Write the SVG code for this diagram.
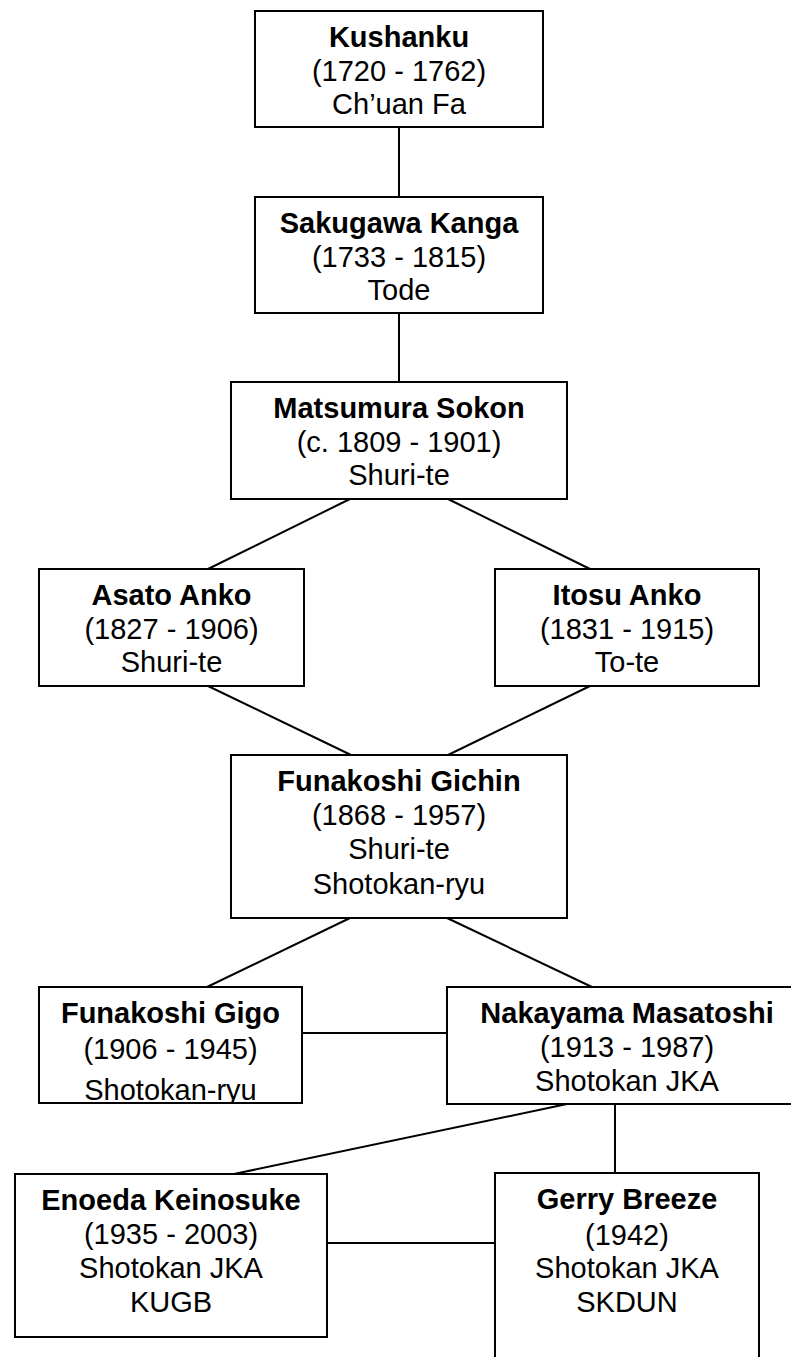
<svg xmlns="http://www.w3.org/2000/svg" width="791" height="1357" viewBox="0 0 791 1357">
<style>
.box{fill:#fff;stroke:#000;stroke-width:2}
.ln{stroke:#000;stroke-width:2;fill:none}
text{font-family:"Liberation Sans",Arial,sans-serif;font-size:29px;text-anchor:middle;fill:#000}
.b{font-weight:bold}
</style>
<defs>
<clipPath id="gigoClip"><rect x="40" y="988" width="261" height="114"/></clipPath>
</defs>
<rect width="791" height="1357" fill="#fff"/>
<g id="connectors">
<line class="ln" x1="399" y1="127" x2="399" y2="197"/>
<line class="ln" x1="399" y1="313" x2="399" y2="382"/>
<line class="ln" x1="350" y1="499" x2="208" y2="569"/>
<line class="ln" x1="448" y1="499" x2="590" y2="569"/>
<line class="ln" x1="208" y1="686" x2="351" y2="755"/>
<line class="ln" x1="590" y1="686" x2="448" y2="755"/>
<line class="ln" x1="350" y1="918" x2="207" y2="987"/>
<line class="ln" x1="447" y1="918" x2="592" y2="987"/>
<line class="ln" x1="302" y1="1033" x2="447" y2="1033"/>
<line class="ln" x1="567" y1="1104" x2="234" y2="1174"/>
<line class="ln" x1="615" y1="1104" x2="615" y2="1173"/>
<line class="ln" x1="327" y1="1243" x2="495" y2="1243"/>
</g>
<g id="kushanku">
<rect class="box" x="255" y="11" width="288" height="116"/>
<text class="b" x="399" y="47">Kushanku</text>
<text x="399" y="81">(1720 - 1762)</text>
<text x="399" y="114">Ch’uan Fa</text>
</g>
<g id="sakugawa">
<rect class="box" x="255" y="197" width="288" height="116"/>
<text class="b" x="399" y="233">Sakugawa Kanga</text>
<text x="399" y="267">(1733 - 1815)</text>
<text x="399" y="300">Tode</text>
</g>
<g id="matsumura">
<rect class="box" x="231" y="382" width="336" height="117"/>
<text class="b" x="399" y="418">Matsumura Sokon</text>
<text x="399" y="452">(c. 1809 - 1901)</text>
<text x="399" y="485">Shuri-te</text>
</g>
<g id="asato">
<rect class="box" x="39" y="569" width="265" height="117"/>
<text class="b" x="171.5" y="605">Asato Anko</text>
<text x="171.5" y="639">(1827 - 1906)</text>
<text x="171.5" y="672">Shuri-te</text>
</g>
<g id="itosu">
<rect class="box" x="495" y="569" width="264" height="117"/>
<text class="b" x="627" y="605">Itosu Anko</text>
<text x="627" y="639">(1831 - 1915)</text>
<text x="627" y="672">To-te</text>
</g>
<g id="gichin">
<rect class="box" x="231" y="755" width="336" height="163"/>
<text class="b" x="399" y="791">Funakoshi Gichin</text>
<text x="399" y="825">(1868 - 1957)</text>
<text x="399" y="859">Shuri-te</text>
<text x="399" y="894">Shotokan-ryu</text>
</g>
<g id="gigo">
<rect class="box" x="39" y="987" width="263" height="116"/>
<g clip-path="url(#gigoClip)">
<text class="b" x="170.5" y="1023">Funakoshi Gigo</text>
<text x="170.5" y="1059">(1906 - 1945)</text>
<text x="170.5" y="1100">Shotokan-ryu</text>
</g>
</g>
<g id="nakayama">
<rect class="box" x="447" y="987" width="360" height="117"/>
<text class="b" x="627" y="1023">Nakayama Masatoshi</text>
<text x="627" y="1057">(1913 - 1987)</text>
<text x="627" y="1091">Shotokan JKA</text>
</g>
<g id="enoeda">
<rect class="box" x="15" y="1174" width="312" height="163"/>
<text class="b" x="171" y="1210">Enoeda Keinosuke</text>
<text x="171" y="1244">(1935 - 2003)</text>
<text x="171" y="1278">Shotokan JKA</text>
<text x="171" y="1312">KUGB</text>
</g>
<g id="breeze">
<rect class="box" x="495" y="1173" width="264" height="220"/>
<text class="b" x="627" y="1209">Gerry Breeze</text>
<text x="627" y="1245">(1942)</text>
<text x="627" y="1278">Shotokan JKA</text>
<text x="627" y="1312">SKDUN</text>
</g>
</svg>
